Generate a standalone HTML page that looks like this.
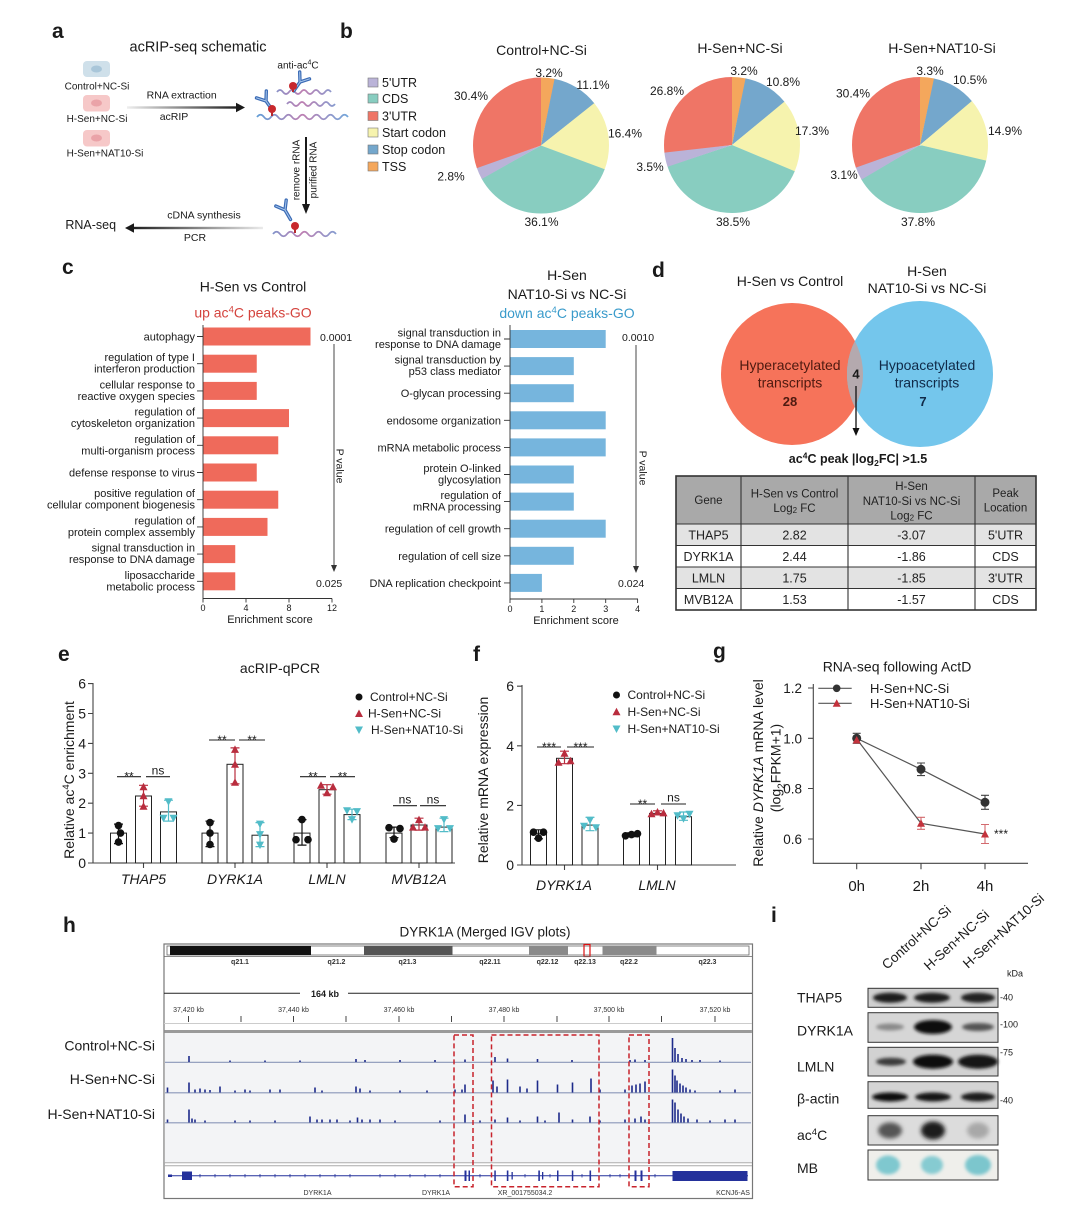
<!DOCTYPE html>
<html><head><meta charset="utf-8">
<style>
html,body{margin:0;padding:0;background:#fff;}
svg{display:block;font-family:"Liberation Sans",Arial,sans-serif;}
</style></head><body>
<svg width="1080" height="1221" viewBox="0 0 1080 1221" xmlns="http://www.w3.org/2000/svg">
<defs>
<linearGradient id="gR" gradientUnits="userSpaceOnUse" x1="127" y1="0" x2="240" y2="0"><stop offset="0" stop-color="#eeeeee"/><stop offset="1" stop-color="#1a1a1a"/></linearGradient>
<linearGradient id="gL" gradientUnits="userSpaceOnUse" x1="130" y1="0" x2="265" y2="0"><stop offset="0" stop-color="#1a1a1a"/><stop offset="1" stop-color="#eeeeee"/></linearGradient>
<linearGradient id="wv" gradientUnits="userSpaceOnUse" x1="255" y1="0" x2="350" y2="0"><stop offset="0" stop-color="#5f9fd8"/><stop offset="0.5" stop-color="#bd7fb2"/><stop offset="1" stop-color="#6fa8dc"/></linearGradient>
<path id="tu" d="M-4,3.5 L4,3.5 L0,-4Z"/>
<path id="td" d="M-4,-3.5 L4,-3.5 L0,4Z"/>
<path id="ab" d="M0 11 L0 0 M0 0 L-6 -8 M0 0 L6 -8"/>
<filter id="bl" x="-50%" y="-80%" width="200%" height="260%"><feGaussianBlur stdDeviation="2.2"/></filter>
<filter id="bl2" x="-50%" y="-80%" width="200%" height="260%"><feGaussianBlur stdDeviation="1.6"/></filter>
<clipPath id="redc"><circle cx="792" cy="374" r="71"/></clipPath>
</defs>
<rect width="1080" height="1221" fill="#fff"/>
<g fill="#1a1a1a">

<!-- ============ Panel a ============ -->
<text x="52" y="38" font-size="21" font-weight="bold">a</text>
<text x="198" y="51.5" font-size="14.5" text-anchor="middle">acRIP-seq schematic</text>
<rect x="83" y="61" width="27" height="16" rx="4" fill="#cfe0ea"/>
<ellipse cx="96.5" cy="69" rx="5.5" ry="3.5" fill="#a9c6d9"/>
<text x="97" y="89.5" font-size="10" text-anchor="middle">Control+NC-Si</text>
<rect x="83" y="95" width="27" height="16.5" rx="4" fill="#f6c8c8"/>
<ellipse cx="96.5" cy="103" rx="5.5" ry="3.5" fill="#eaa3a8"/>
<text x="97" y="122" font-size="10" text-anchor="middle">H-Sen+NC-Si</text>
<rect x="83" y="130" width="27" height="16.5" rx="4" fill="#f6c8c8"/>
<ellipse cx="96.5" cy="138" rx="5.5" ry="3.5" fill="#eaa3a8"/>
<text x="105" y="156.5" font-size="10" text-anchor="middle">H-Sen+NAT10-Si</text>
<rect x="127" y="106.3" width="111" height="2.4" fill="url(#gR)"/>
<polygon points="236,102.8 245,107.5 236,112.2" fill="#1a1a1a"/>
<text x="181.7" y="98.5" font-size="10.5" text-anchor="middle">RNA extraction</text>
<text x="174" y="120" font-size="10.5" text-anchor="middle">acRIP</text>
<text x="298" y="68.5" font-size="10" text-anchor="middle">anti-ac<tspan dy="-4" font-size="7">4</tspan><tspan dy="4">C</tspan></text>
<path d="M277 92 q3 -4 6 0 t6 0 t6 0 t6 0 t6 0 t6 0 t6 0 t6 0 t6 0" fill="none" stroke="url(#wv)" stroke-width="1.8"/>
<path d="M287 104 q3 -4 6 0 t6 0 t6 0 t6 0 t6 0 t6 0 t6 0 t6 0" fill="none" stroke="url(#wv)" stroke-width="1.8"/>
<path d="M257 117 q3.5 -4.5 7 0 t7 0 t7 0 t7 0 t7 0 t7 0 t7 0 t7 0 t7 0 t7 0 t7 0 t7 0 t7 0" fill="none" stroke="url(#wv)" stroke-width="1.8"/>
<g transform="translate(300,82) rotate(35)"><use href="#ab" fill="none" stroke="#3b6bb5" stroke-width="3.4" stroke-linecap="round"/><use href="#ab" fill="none" stroke="#a7c6ec" stroke-width="1" stroke-linecap="round"/></g>
<line x1="293" y1="86" x2="293" y2="92" stroke="#b52a2e" stroke-width="2"/><circle cx="293" cy="86" r="4" fill="#c8282d"/>
<g transform="translate(266,101) rotate(-35)"><use href="#ab" fill="none" stroke="#3b6bb5" stroke-width="3.4" stroke-linecap="round"/><use href="#ab" fill="none" stroke="#a7c6ec" stroke-width="1" stroke-linecap="round"/></g>
<line x1="272" y1="109" x2="272" y2="116" stroke="#b52a2e" stroke-width="2"/><circle cx="272" cy="109" r="4" fill="#c8282d"/>
<line x1="306" y1="137" x2="306" y2="206" stroke="#1a1a1a" stroke-width="2"/>
<polygon points="302,204 310,204 306,214" fill="#1a1a1a"/>
<text transform="translate(299.5,170) rotate(-90)" font-size="10" text-anchor="middle">remove rRNA</text>
<text transform="translate(316.5,170) rotate(-90)" font-size="10" text-anchor="middle">purified RNA</text>
<g transform="translate(285,210) rotate(-30)"><use href="#ab" fill="none" stroke="#3b6bb5" stroke-width="3.4" stroke-linecap="round"/><use href="#ab" fill="none" stroke="#a7c6ec" stroke-width="1" stroke-linecap="round"/></g>
<line x1="295" y1="226" x2="295" y2="233" stroke="#b52a2e" stroke-width="2"/><circle cx="295" cy="226" r="4" fill="#c8282d"/>
<path d="M273 234 q3.5 -4.5 7 0 t7 0 t7 0 t7 0 t7 0 t7 0 t7 0 t7 0 t7 0" fill="none" stroke="url(#wv)" stroke-width="1.8"/>
<rect x="132" y="226.8" width="131" height="2.4" fill="url(#gL)"/>
<polygon points="134,223.3 125,228 134,232.7" fill="#1a1a1a"/>
<text x="204" y="218.5" font-size="10.5" text-anchor="middle">cDNA synthesis</text>
<text x="195" y="241" font-size="10.5" text-anchor="middle">PCR</text>
<text x="90.7" y="229" font-size="12.5" text-anchor="middle">RNA-seq</text>

<!-- ============ Panel b ============ -->
<text x="340" y="38" font-size="21" font-weight="bold">b</text>
<g font-size="12.5">
<rect x="368" y="78" width="10" height="9" fill="#bab3d8" stroke="#777" stroke-width="0.6"/><text x="382" y="87">5'UTR</text>
<rect x="368" y="94" width="10" height="9" fill="#88cdc0" stroke="#777" stroke-width="0.6"/><text x="382" y="103">CDS</text>
<rect x="368" y="111.5" width="10" height="9" fill="#ef7566" stroke="#777" stroke-width="0.6"/><text x="382" y="120.5">3'UTR</text>
<rect x="368" y="128" width="10" height="9" fill="#f6f3ae" stroke="#777" stroke-width="0.6"/><text x="382" y="137">Start codon</text>
<rect x="368" y="145" width="10" height="9" fill="#74a7cc" stroke="#777" stroke-width="0.6"/><text x="382" y="154">Stop codon</text>
<rect x="368" y="162" width="10" height="9" fill="#f4a75c" stroke="#777" stroke-width="0.6"/><text x="382" y="171">TSS</text>
</g>
<!-- pie 1 -->
<g transform="translate(541,145.5) rotate(-90)" fill="none" stroke-width="68">
<circle r="34" pathLength="100" stroke="#f4a75c" stroke-dasharray="3.3 200" stroke-dashoffset="0"/>
<circle r="34" pathLength="100" stroke="#74a7cc" stroke-dasharray="11.2 200" stroke-dashoffset="-3.2"/>
<circle r="34" pathLength="100" stroke="#f6f3ae" stroke-dasharray="16.5 200" stroke-dashoffset="-14.3"/>
<circle r="34" pathLength="100" stroke="#88cdc0" stroke-dasharray="36.2 200" stroke-dashoffset="-30.7"/>
<circle r="34" pathLength="100" stroke="#bab3d8" stroke-dasharray="2.9 200" stroke-dashoffset="-66.8"/>
<circle r="34" pathLength="100" stroke="#ef7566" stroke-dasharray="30.5 200" stroke-dashoffset="-69.6"/>
</g>
<text x="541.5" y="55" font-size="14" text-anchor="middle">Control+NC-Si</text>
<g font-size="12" text-anchor="middle">
<text x="549" y="77">3.2%</text><text x="593" y="89">11.1%</text><text x="471" y="100">30.4%</text>
<text x="625" y="137.5">16.4%</text><text x="451" y="180.5">2.8%</text><text x="541.5" y="226">36.1%</text>
</g>
<!-- pie 2 -->
<g transform="translate(732,145) rotate(-90)" fill="none" stroke-width="68">
<circle r="34" pathLength="100" stroke="#f4a75c" stroke-dasharray="3.3 200" stroke-dashoffset="0"/>
<circle r="34" pathLength="100" stroke="#74a7cc" stroke-dasharray="10.9 200" stroke-dashoffset="-3.2"/>
<circle r="34" pathLength="100" stroke="#f6f3ae" stroke-dasharray="17.4 200" stroke-dashoffset="-14.0"/>
<circle r="34" pathLength="100" stroke="#88cdc0" stroke-dasharray="38.6 200" stroke-dashoffset="-31.3"/>
<circle r="34" pathLength="100" stroke="#bab3d8" stroke-dasharray="3.6 200" stroke-dashoffset="-69.8"/>
<circle r="34" pathLength="100" stroke="#ef7566" stroke-dasharray="26.9 200" stroke-dashoffset="-73.2"/>
</g>
<text x="740" y="53" font-size="14" text-anchor="middle">H-Sen+NC-Si</text>
<g font-size="12" text-anchor="middle">
<text x="744" y="75">3.2%</text><text x="783" y="86">10.8%</text><text x="667" y="95">26.8%</text>
<text x="812" y="135">17.3%</text><text x="650" y="171">3.5%</text><text x="733" y="226">38.5%</text>
</g>
<!-- pie 3 -->
<g transform="translate(920,145) rotate(-90)" fill="none" stroke-width="68">
<circle r="34" pathLength="100" stroke="#f4a75c" stroke-dasharray="3.4 200" stroke-dashoffset="0"/>
<circle r="34" pathLength="100" stroke="#74a7cc" stroke-dasharray="10.6 200" stroke-dashoffset="-3.3"/>
<circle r="34" pathLength="100" stroke="#f6f3ae" stroke-dasharray="15.0 200" stroke-dashoffset="-13.8"/>
<circle r="34" pathLength="100" stroke="#88cdc0" stroke-dasharray="37.9 200" stroke-dashoffset="-28.7"/>
<circle r="34" pathLength="100" stroke="#bab3d8" stroke-dasharray="3.2 200" stroke-dashoffset="-66.5"/>
<circle r="34" pathLength="100" stroke="#ef7566" stroke-dasharray="30.5 200" stroke-dashoffset="-69.6"/>
</g>
<text x="942" y="53" font-size="14" text-anchor="middle">H-Sen+NAT10-Si</text>
<g font-size="12" text-anchor="middle">
<text x="930" y="75">3.3%</text><text x="970" y="84">10.5%</text><text x="853" y="97.5">30.4%</text>
<text x="1005" y="135">14.9%</text><text x="844" y="179">3.1%</text><text x="918" y="226">37.8%</text>
</g>

<!-- ============ Panel c ============ -->
<text x="62" y="274" font-size="21" font-weight="bold">c</text>
<text x="253" y="291.5" font-size="14" text-anchor="middle">H-Sen vs Control</text>
<text x="253" y="317.5" font-size="14" text-anchor="middle" fill="#d4433d">up ac<tspan dy="-5" font-size="9.5">4</tspan><tspan dy="5">C peaks-GO</tspan></text>
<g fill="#ef6a5b">
<rect x="203" y="327.5" width="107.5" height="18"/>
<rect x="203" y="354.7" width="53.75" height="18"/>
<rect x="203" y="381.9" width="53.75" height="18"/>
<rect x="203" y="409.1" width="86" height="18"/>
<rect x="203" y="436.3" width="75.25" height="18"/>
<rect x="203" y="463.5" width="53.75" height="18"/>
<rect x="203" y="490.7" width="75.25" height="18"/>
<rect x="203" y="517.9" width="64.5" height="18"/>
<rect x="203" y="545.1" width="32.25" height="18"/>
<rect x="203" y="572.3" width="32.25" height="18"/>
</g>
<g stroke="#333" stroke-width="0.9" fill="none">
<path d="M203 325 V598.5 H332"/>
<path d="M197 336.5H203M197 363.7H203M197 390.9H203M197 418.1H203M197 445.3H203M197 472.5H203M197 499.7H203M197 526.9H203M197 554.1H203M197 581.3H203"/>
<path d="M203 598.5v4M246 598.5v4M289 598.5v4M332 598.5v4"/>
<path d="M334 344 V566"/>
</g>
<polygon points="331,565 337,565 334,572" fill="#333"/>
<g font-size="9" text-anchor="middle"><text x="203" y="611">0</text><text x="246" y="611">4</text><text x="289" y="611">8</text><text x="332" y="611">12</text></g>
<text x="270" y="623" font-size="11" text-anchor="middle">Enrichment score</text>
<text x="320" y="341" font-size="10.5">0.0001</text>
<text x="316" y="587" font-size="10.5">0.025</text>
<text transform="translate(336.5,466) rotate(90)" font-size="10.5" text-anchor="middle">P value</text>
<g font-size="11" text-anchor="end">
<text x="195" y="340.5">autophagy</text>
<text x="195" y="361.2">regulation of type I</text><text x="195" y="372.7">interferon production</text>
<text x="195" y="388.4">cellular response to</text><text x="195" y="399.9">reactive oxygen species</text>
<text x="195" y="415.6">regulation of</text><text x="195" y="427.1">cytoskeleton organization</text>
<text x="195" y="442.8">regulation of</text><text x="195" y="454.3">multi-organism process</text>
<text x="195" y="476.5">defense response to virus</text>
<text x="195" y="497.2">positive regulation of</text><text x="195" y="508.7">cellular component biogenesis</text>
<text x="195" y="524.4">regulation of</text><text x="195" y="535.9">protein complex assembly</text>
<text x="195" y="551.6">signal transduction in</text><text x="195" y="563.1">response to DNA damage</text>
<text x="195" y="578.8">liposaccharide</text><text x="195" y="590.3">metabolic process</text>
</g>

<!-- right GO chart -->
<text x="567" y="280" font-size="14" text-anchor="middle">H-Sen</text>
<text x="567" y="299" font-size="14" text-anchor="middle">NAT10-Si vs NC-Si</text>
<text x="567" y="318" font-size="14" text-anchor="middle" fill="#3a9bcb">down ac<tspan dy="-5" font-size="9.5">4</tspan><tspan dy="5">C peaks-GO</tspan></text>
<g fill="#76b5dd">
<rect x="510" y="330" width="95.7" height="18"/>
<rect x="510" y="357.1" width="63.8" height="18"/>
<rect x="510" y="384.2" width="63.8" height="18"/>
<rect x="510" y="411.3" width="95.7" height="18"/>
<rect x="510" y="438.4" width="95.7" height="18"/>
<rect x="510" y="465.5" width="63.8" height="18"/>
<rect x="510" y="492.6" width="63.8" height="18"/>
<rect x="510" y="519.7" width="95.7" height="18"/>
<rect x="510" y="546.8" width="63.8" height="18"/>
<rect x="510" y="573.9" width="31.9" height="18"/>
</g>
<g stroke="#333" stroke-width="0.9" fill="none">
<path d="M510 325 V599 H638"/>
<path d="M504 339H510M504 366.1H510M504 393.2H510M504 420.3H510M504 447.4H510M504 474.5H510M504 501.6H510M504 528.7H510M504 555.8H510M504 582.9H510"/>
<path d="M510 599v4M541.9 599v4M573.8 599v4M605.7 599v4M637.6 599v4"/>
<path d="M636 345 V567"/>
</g>
<polygon points="633,566 639,566 636,573" fill="#333"/>
<g font-size="9" text-anchor="middle"><text x="510" y="612">0</text><text x="541.9" y="612">1</text><text x="573.8" y="612">2</text><text x="605.7" y="612">3</text><text x="637.6" y="612">4</text></g>
<text x="576" y="624" font-size="11" text-anchor="middle">Enrichment score</text>
<text x="622" y="341" font-size="10.5">0.0010</text>
<text x="618" y="587" font-size="10.5">0.024</text>
<text transform="translate(639.5,468) rotate(90)" font-size="10.5" text-anchor="middle">P value</text>
<g font-size="11" text-anchor="end">
<text x="501" y="336.5">signal transduction in</text><text x="501" y="348">response to DNA damage</text>
<text x="501" y="363.6">signal transduction by</text><text x="501" y="375.1">p53 class mediator</text>
<text x="501" y="397.2">O-glycan processing</text>
<text x="501" y="424.3">endosome organization</text>
<text x="501" y="451.4">mRNA metabolic process</text>
<text x="501" y="472">protein O-linked</text><text x="501" y="483.5">glycosylation</text>
<text x="501" y="499.1">regulation of</text><text x="501" y="510.6">mRNA processing</text>
<text x="501" y="532.7">regulation of cell growth</text>
<text x="501" y="559.8">regulation of cell size</text>
<text x="501" y="586.9">DNA replication checkpoint</text>
</g>

<!-- ============ Panel d ============ -->
<text x="652" y="277" font-size="21" font-weight="bold">d</text>
<text x="790" y="286" font-size="14" text-anchor="middle">H-Sen vs Control</text>
<text x="927" y="276" font-size="14" text-anchor="middle">H-Sen</text>
<text x="927" y="293" font-size="14" text-anchor="middle">NAT10-Si vs NC-Si</text>
<circle cx="792" cy="374" r="71" fill="#f6735a"/>
<circle cx="920" cy="374" r="73" fill="#74c6ec"/>
<circle cx="920" cy="374" r="73" fill="#b4a9ae" clip-path="url(#redc)"/>
<g font-size="14" text-anchor="middle">
<text x="790" y="370" fill="#4e1a10">Hyperacetylated</text>
<text x="790" y="387.5" fill="#4e1a10">transcripts</text>
<text x="790" y="406" font-weight="bold" font-size="13" fill="#4e1a10">28</text>
<text x="927" y="370" fill="#102a48">Hypoacetylated</text>
<text x="927" y="387.5" fill="#102a48">transcripts</text>
<text x="923" y="406" font-weight="bold" font-size="13" fill="#102a48">7</text>
<text x="856" y="378.5" font-weight="bold" font-size="13">4</text>
</g>
<line x1="856" y1="386" x2="856" y2="430" stroke="#111" stroke-width="1.3"/>
<polygon points="852.5,428 859.5,428 856,436" fill="#111"/>
<text x="858" y="463" font-size="12.5" font-weight="bold" text-anchor="middle">ac<tspan dy="-4.5" font-size="8.5">4</tspan><tspan dy="4.5">C peak |log</tspan><tspan dy="3" font-size="8.5">2</tspan><tspan dy="-3">FC| &gt;1.5</tspan></text>
<!-- table -->
<rect x="676" y="476" width="360" height="48" fill="#a9a9a9"/>
<rect x="676" y="524" width="360" height="21.5" fill="#e3e3e3"/>
<rect x="676" y="545.5" width="360" height="21.5" fill="#ffffff"/>
<rect x="676" y="567" width="360" height="21.5" fill="#e3e3e3"/>
<rect x="676" y="588.5" width="360" height="21.5" fill="#ffffff"/>
<g stroke="#333" stroke-width="1.1" fill="none">
<rect x="676" y="476" width="360" height="134" stroke-width="1.6"/>
<path d="M741 476V610M848 476V610M975 476V610M676 524H1036M676 545.5H1036M676 567H1036M676 588.5H1036"/>
</g>
<g font-size="11.5" text-anchor="middle" fill="#222">
<text x="708.5" y="504">Gene</text>
<text x="794.5" y="497.5">H-Sen vs Control</text>
<text x="794.5" y="512">Log<tspan dy="1" font-size="8">2</tspan><tspan dy="-1"> FC</tspan></text>
<text x="911.5" y="490">H-Sen</text>
<text x="911.5" y="505">NAT10-Si vs NC-Si</text>
<text x="911.5" y="519.5">Log<tspan dy="1" font-size="8">2</tspan><tspan dy="-1"> FC</tspan></text>
<text x="1005.5" y="497">Peak</text>
<text x="1005.5" y="511.5">Location</text>
</g>
<g font-size="12.5" text-anchor="middle" fill="#222">
<text x="708.5" y="539.5">THAP5</text><text x="794.5" y="539.5">2.82</text><text x="911.5" y="539.5">-3.07</text><text x="1005.5" y="539.5">5'UTR</text>
<text x="708.5" y="561">DYRK1A</text><text x="794.5" y="561">2.44</text><text x="911.5" y="561">-1.86</text><text x="1005.5" y="561">CDS</text>
<text x="708.5" y="582.5">LMLN</text><text x="794.5" y="582.5">1.75</text><text x="911.5" y="582.5">-1.85</text><text x="1005.5" y="582.5">3'UTR</text>
<text x="708.5" y="604">MVB12A</text><text x="794.5" y="604">1.53</text><text x="911.5" y="604">-1.57</text><text x="1005.5" y="604">CDS</text>
</g>

<!-- ============ Panel e ============ -->
<text x="58" y="661" font-size="21" font-weight="bold">e</text>
<text x="280" y="673" font-size="14" text-anchor="middle">acRIP-qPCR</text>
<text transform="translate(74,780) rotate(-90)" font-size="14" text-anchor="middle">Relative  ac<tspan dy="-5" font-size="9.5">4</tspan><tspan dy="5">C enrichment</tspan></text>
<g font-size="14" text-anchor="end">
<text x="86" y="868">0</text><text x="86" y="838.1">1</text><text x="86" y="808.2">2</text><text x="86" y="778.3">3</text><text x="86" y="748.4">4</text><text x="86" y="718.5">5</text><text x="86" y="688.6">6</text>
</g>
<g stroke="#444" stroke-width="1.1" fill="none">
<path d="M93 683V863H455"/>
<path d="M88 863H93M88 833.1H93M88 803.2H93M88 773.3H93M88 743.4H93M88 713.5H93M88 683.6H93"/>
<path d="M143.5 863v5M235 863v5M327 863v5M419 863v5"/>
</g>
<g fill="#fff" stroke="#222" stroke-width="1">
<rect x="110.5" y="833.1" width="16" height="29.9"/><rect x="135.5" y="796" width="16" height="67"/><rect x="160.5" y="811.9" width="16" height="51.1"/>
<rect x="202" y="833.1" width="16" height="29.9"/><rect x="227" y="764.3" width="16" height="98.7"/><rect x="252" y="835.2" width="16" height="27.8"/>
<rect x="294" y="833.1" width="16" height="29.9"/><rect x="319" y="789.7" width="16" height="73.3"/><rect x="344" y="814.6" width="16" height="48.4"/>
<rect x="386" y="833.1" width="16" height="29.9"/><rect x="411" y="825" width="16" height="38"/><rect x="436" y="827.1" width="16" height="35.9"/>
</g>
<!-- error bars e -->
<g fill="none" stroke-width="1.2">
<path stroke="#111" d="M118.5 843.6V824.1M114 843.6h9M114 824.1h9 M210 846.6V821.1M205.5 846.6h9M205.5 821.1h9 M302 845.1V819.6M297.5 845.1h9M297.5 819.6h9 M394 837.6V827.1M389.5 837.6h9M389.5 827.1h9"/>
<path stroke="#b92d3e" d="M143.5 806.2V785.3M139 806.2h9M139 785.3h9 M235 783.8V747.9M230.5 783.8h9M230.5 747.9h9 M327 794.2V784.7M322.5 794.2h9M322.5 784.7h9 M419 830.1V818.2M414.5 830.1h9M414.5 818.2h9"/>
<path stroke="#52bcc8" d="M168.5 821.1V800.2M164 821.1h9M164 800.2h9 M260 846.6V822.6M255.5 846.6h9M255.5 822.6h9 M352 819.6V809.2M347.5 819.6h9M347.5 809.2h9 M444 831.6V818.2M439.5 831.6h9M439.5 818.2h9"/>
</g>
<g fill="#111">
<circle cx="118.5" cy="825.6" r="3.8"/><circle cx="120.5" cy="833.1" r="3.8"/><circle cx="118.5" cy="842.1" r="3.8"/>
<circle cx="210" cy="822.6" r="3.8"/><circle cx="210" cy="833.1" r="3.8"/><circle cx="210" cy="844.5" r="3.8"/>
<circle cx="296" cy="839.7" r="3.8"/><circle cx="308" cy="839.7" r="3.8"/><circle cx="302" cy="819.6" r="3.8"/>
<circle cx="389" cy="827.7" r="3.8"/><circle cx="400" cy="828.6" r="3.8"/><circle cx="394" cy="839.1" r="3.8"/>
</g>
<g fill="#b92d3e">
<use href="#tu" x="143.5" y="786.8"/><use href="#tu" x="143.5" y="795.7"/><use href="#tu" x="143.5" y="806.2"/>
<use href="#tu" x="235" y="749.4"/><use href="#tu" x="235" y="764.3"/><use href="#tu" x="235" y="782.3"/>
<use href="#tu" x="321" y="785.3"/><use href="#tu" x="333" y="786.8"/><use href="#tu" x="327" y="792.7"/>
<use href="#tu" x="419" y="819.6"/><use href="#tu" x="413" y="827.1"/><use href="#tu" x="425" y="827.1"/>
</g>
<g fill="#52bcc8">
<use href="#td" x="168.5" y="801.7"/><use href="#td" x="163.5" y="818.2"/><use href="#td" x="173.5" y="818.2"/>
<use href="#td" x="260" y="824.1"/><use href="#td" x="260" y="834.6"/><use href="#td" x="260" y="845.1"/>
<use href="#td" x="347" y="810.7"/><use href="#td" x="357" y="811.6"/><use href="#td" x="352" y="819.6"/>
<use href="#td" x="444" y="819.6"/><use href="#td" x="438" y="828.6"/><use href="#td" x="450" y="828.6"/>
</g>
<!-- sig e -->
<g stroke="#222" stroke-width="1.1">
<path d="M117 776.7H141M146 776.7H170M209 740H235M239 740H265M300 776.7H326M330 776.7H355M393 805.7H417M420 805.7H446"/>
</g>
<g font-size="12" text-anchor="middle">
<text x="129" y="780.5">**</text><text x="158" y="774.5">ns</text>
<text x="222" y="744">**</text><text x="252" y="744">**</text>
<text x="313" y="780.5">**</text><text x="342.5" y="780.5">**</text>
<text x="405" y="803.5">ns</text><text x="433" y="803.5">ns</text>
</g>
<!-- legend e -->
<circle cx="359" cy="697" r="3.5" fill="#111"/>
<use href="#tu" x="359" y="713.5" fill="#b92d3e"/>
<use href="#td" x="359" y="730" fill="#52bcc8"/>
<g font-size="12"><text x="370" y="701">Control+NC-Si</text><text x="368" y="717.5">H-Sen+NC-Si</text><text x="371" y="734">H-Sen+NAT10-Si</text></g>
<g font-size="14" font-style="italic" text-anchor="middle">
<text x="143.5" y="884">THAP5</text><text x="235" y="884">DYRK1A</text><text x="327" y="884">LMLN</text><text x="419" y="884">MVB12A</text>
</g>

<!-- ============ Panel f ============ -->
<text x="473" y="661" font-size="21" font-weight="bold">f</text>
<text transform="translate(488,780) rotate(-90)" font-size="14" text-anchor="middle">Relative  mRNA expression</text>
<g font-size="14" text-anchor="end">
<text x="514" y="870">0</text><text x="514" y="810.5">2</text><text x="514" y="751">4</text><text x="514" y="691">6</text>
</g>
<g stroke="#444" stroke-width="1.1" fill="none">
<path d="M522 685V865H736"/>
<path d="M517 865H522M517 805.4H522M517 745.8H522M517 686.2H522"/>
<path d="M564.5 865v5M657.5 865v5"/>
</g>
<g fill="#fff" stroke="#222" stroke-width="1">
<rect x="530.5" y="833.7" width="16" height="31.3"/><rect x="556.5" y="758.3" width="16" height="106.7"/><rect x="582" y="825.1" width="16" height="39.9"/>
<rect x="623.5" y="835.2" width="16" height="29.8"/><rect x="649.5" y="813.4" width="16" height="51.6"/><rect x="675.5" y="816.7" width="16" height="48.3"/>
</g>
<g fill="none" stroke-width="1.2">
<path stroke="#111" d="M538.5 838.8V829.8M534 838.8h9M534 829.8h9 M631.5 836.7V832.8M627 836.7h9M627 832.8h9"/>
<path stroke="#b92d3e" d="M564.5 763.7V751.2M560 763.7h9M560 751.2h9 M657.5 814.9V810.8M653 814.9h9M653 810.8h9"/>
<path stroke="#52bcc8" d="M590 830.7V817.3M585.5 830.7h9M585.5 817.3h9 M683.5 820.3V812M679 820.3h9M679 812h9"/>
</g>
<g fill="#111">
<circle cx="533.5" cy="832.2" r="3.8"/><circle cx="543.5" cy="832.2" r="3.8"/><circle cx="538.5" cy="838.2" r="3.8"/>
<circle cx="625.5" cy="835.8" r="3.8"/><circle cx="631.5" cy="834.6" r="3.8"/><circle cx="637.5" cy="833.7" r="3.8"/>
</g>
<g fill="#b92d3e">
<use href="#tu" x="564.5" y="753.3"/><use href="#tu" x="558.5" y="762.2"/><use href="#tu" x="570.5" y="760.7"/>
<use href="#tu" x="651.5" y="813.7"/><use href="#tu" x="657.5" y="812"/><use href="#tu" x="663.5" y="812.9"/>
</g>
<g fill="#52bcc8">
<use href="#td" x="590" y="820.3"/><use href="#td" x="584" y="826.3"/><use href="#td" x="596" y="827.8"/>
<use href="#td" x="677.5" y="815.8"/><use href="#td" x="683.5" y="818.8"/><use href="#td" x="689.5" y="814.3"/>
</g>
<g stroke="#222" stroke-width="1.1"><path d="M537 747H561M567 747H594M630 804H655M661 804H686"/></g>
<g font-size="12" text-anchor="middle">
<text x="549" y="751">***</text><text x="580.5" y="751">***</text>
<text x="642.5" y="808">**</text><text x="673.5" y="801.5">ns</text>
</g>
<circle cx="616.5" cy="695" r="3.5" fill="#111"/>
<use href="#tu" x="616.5" y="711.7" fill="#b92d3e"/>
<use href="#td" x="616.5" y="729" fill="#52bcc8"/>
<g font-size="12"><text x="627.5" y="699">Control+NC-Si</text><text x="627.5" y="716">H-Sen+NC-Si</text><text x="627.5" y="733">H-Sen+NAT10-Si</text></g>
<g font-size="14" font-style="italic" text-anchor="middle"><text x="564" y="890">DYRK1A</text><text x="657" y="890">LMLN</text></g>

<!-- ============ Panel g ============ -->
<text x="713" y="658" font-size="21" font-weight="bold">g</text>
<text x="897" y="671.5" font-size="14" text-anchor="middle">RNA-seq following ActD</text>
<text transform="translate(763,773) rotate(-90)" font-size="14" text-anchor="middle">Relative <tspan font-style="italic">DYRK1A</tspan> mRNA level</text>
<text transform="translate(780.5,768) rotate(-90)" font-size="14" text-anchor="middle">(log<tspan dy="4" font-size="10">2</tspan><tspan dy="-4">FPKM+1)</tspan></text>
<g font-size="13.5" text-anchor="end">
<text x="802" y="693">1.2</text><text x="802" y="743.3">1.0</text><text x="802" y="793.3">0.8</text><text x="802" y="844">0.6</text>
</g>
<g stroke="#444" stroke-width="1.1" fill="none">
<path d="M813.3 684V863.3H1028"/>
<path d="M808 688H813.3M808 738.3H813.3M808 788.5H813.3M808 839H813.3"/>
<path d="M856.7 863.3v6M921 863.3v6M985 863.3v6"/>
</g>
<g font-size="15" text-anchor="middle"><text x="856.7" y="891">0h</text><text x="921" y="891">2h</text><text x="985" y="891">4h</text></g>
<g stroke="#555" stroke-width="1.2" fill="none">
<path d="M856.7 738.3L921 769.3L985 802.3"/>
<path d="M856.7 739L921 823.3L985 834"/>
<path d="M818.3 688.3H851.7M818.3 703.3H851.7"/>
</g>
<g stroke="#444" stroke-width="1.1" fill="none">
<path d="M856.7 733.3V743.3M852.7 733.3h8M852.7 743.3h8 M921 763V775.6M917 763h8M917 775.6h8 M985 795.3V809.3M981 795.3h8M981 809.3h8"/>
</g>
<g stroke="#d36a6e" stroke-width="1.1" fill="none">
<path d="M921 817.3V829.3M917 817.3h8M917 829.3h8 M985 824.5V843.5M981 824.5h8M981 843.5h8"/>
</g>
<g fill="#333"><circle cx="856.7" cy="738.3" r="4.5"/><circle cx="921" cy="769.3" r="4.5"/><circle cx="985" cy="802.3" r="4.5"/><circle cx="836.7" cy="688.3" r="3.8"/></g>
<g fill="#c3323c"><use href="#tu" x="856.7" y="740"/><use href="#tu" x="921" y="823.3"/><use href="#tu" x="985" y="834"/><use href="#tu" x="836.7" y="703.3"/></g>
<text x="1001" y="838" font-size="12" text-anchor="middle">***</text>
<g font-size="13"><text x="870" y="693">H-Sen+NC-Si</text><text x="870" y="708">H-Sen+NAT10-Si</text></g>

<!-- ============ Panel h ============ -->
<text x="63" y="932" font-size="21" font-weight="bold">h</text>
<text x="485" y="936.5" font-size="13.5" text-anchor="middle">DYRK1A (Merged IGV plots)</text>
<rect x="164" y="944" width="588.5" height="254.5" fill="#fff" stroke="#777" stroke-width="1.2"/>
<!-- ideogram -->
<rect x="167" y="946" width="582" height="9" fill="#fff" stroke="#666" stroke-width="0.8"/>
<rect x="170" y="946" width="141" height="9" fill="#111"/>
<rect x="364" y="946" width="88.5" height="9" fill="#555"/>
<rect x="529" y="946" width="39" height="9" fill="#8a8a8a"/>
<rect x="602.5" y="946" width="54" height="9" fill="#8a8a8a"/>
<rect x="584" y="944.5" width="6" height="12" fill="none" stroke="#d11" stroke-width="1.2"/>
<line x1="164" y1="956.5" x2="752" y2="956.5" stroke="#666" stroke-width="0.8"/>
<g font-size="7" font-weight="bold" text-anchor="middle" fill="#333">
<text x="240" y="964">q21.1</text><text x="336.5" y="964">q21.2</text><text x="407.5" y="964">q21.3</text><text x="490" y="964">q22.11</text>
<text x="547.5" y="964">q22.12</text><text x="585" y="964">q22.13</text><text x="629" y="964">q22.2</text><text x="707.5" y="964">q22.3</text>
</g>
<line x1="164" y1="993.3" x2="300" y2="993.3" stroke="#222" stroke-width="1"/>
<line x1="348" y1="993.3" x2="752" y2="993.3" stroke="#222" stroke-width="1"/>
<text x="325" y="996.8" font-size="9" font-weight="bold" text-anchor="middle">164 kb</text>
<g font-size="7" text-anchor="middle" fill="#333">
<text x="188.5" y="1012">37,420 kb</text><text x="293.5" y="1012">37,440 kb</text><text x="399" y="1012">37,460 kb</text>
<text x="504" y="1012">37,480 kb</text><text x="609" y="1012">37,500 kb</text><text x="715" y="1012">37,520 kb</text>
</g>
<path d="M188.5 1016v6M241 1016v6M293.5 1016v6M346 1016v6M399 1016v6M451.5 1016v6M504 1016v6M557 1016v6M609 1016v6M661.5 1016v6M715 1016v6" stroke="#333" stroke-width="0.9"/>
<line x1="164" y1="1023.5" x2="752" y2="1023.5" stroke="#ccc" stroke-width="1"/>
<rect x="164.6" y="1030" width="587.3" height="3" fill="#9a9a9a"/>
<rect x="164.6" y="1033" width="587.3" height="129" fill="#f3f4f6"/>
<g stroke="#8a97b8" stroke-width="1.2">
<line x1="165" y1="1062.3" x2="751" y2="1062.3"/><line x1="165" y1="1092.8" x2="751" y2="1092.8"/><line x1="165" y1="1122.8" x2="751" y2="1122.8"/>
</g>
<g stroke="#1d2a8a" stroke-width="1.6" fill="none">
<path d="M189 1062v-6M230 1062v-1.5M265 1062v-1.5M300 1062v-1.5M356 1062v-3M365 1062v-2M400 1062v-2M435 1062v-2M465 1062v-2.5M495 1062v-5M507.5 1062v-3.5M537.5 1062v-3M572 1062v-2M630 1062v-2M635 1062v-2.5M645 1062v-2M672.5 1062v-24M675 1062v-14M678 1062v-8M682 1062v-4M686 1062v-3M692 1062v-2M700 1062v-2M720 1062v-1.5"/>
<path d="M167.5 1092.5v-5M189 1092.5v-10M195 1092.5v-3M200 1092.5v-4M205 1092.5v-3M210 1092.5v-2.5M220 1092.5v-6M235 1092.5v-2M245 1092.5v-3M250 1092.5v-2M270 1092.5v-3M280 1092.5v-3M315 1092.5v-5M322 1092.5v-2M356 1092.5v-6M360 1092.5v-4M370 1092.5v-2M400 1092.5v-2M427 1092.5v-2M455 1092.5v-3M462 1092.5v-3M465 1092.5v-8M493 1092.5v-12M497 1092.5v-6M507.5 1092.5v-13M520 1092.5v-6M527 1092.5v-4M537.5 1092.5v-12M557.5 1092.5v-8M572.5 1092.5v-10M591 1092.5v-14M600 1092.5v-3M625 1092.5v-3M632 1092.5v-7M636 1092.5v-8M640 1092.5v-9M645 1092.5v-11M672.5 1092.5v-23M675 1092.5v-17M677 1092.5v-12M680 1092.5v-9M683 1092.5v-7M686 1092.5v-5M690 1092.5v-3M695 1092.5v-2M720 1092.5v-2M735 1092.5v-3"/>
<path d="M167.5 1122.5v-3M189 1122.5v-13M192 1122.5v-4M195 1122.5v-3M205 1122.5v-2M235 1122.5v-2M250 1122.5v-2M275 1122.5v-2M310 1122.5v-6M317 1122.5v-3M322 1122.5v-3M330 1122.5v-3M337 1122.5v-3M350 1122.5v-2M357.5 1122.5v-5M362 1122.5v-3M370 1122.5v-3M380 1122.5v-3M395 1122.5v-2M440 1122.5v-2M465 1122.5v-8M480 1122.5v-2M495 1122.5v-3M507.5 1122.5v-5M520 1122.5v-2M537.5 1122.5v-6M545 1122.5v-2M559 1122.5v-10M572.5 1122.5v-3M590 1122.5v-6M600 1122.5v-2M625 1122.5v-3M635 1122.5v-4M641 1122.5v-6M645 1122.5v-3M672.5 1122.5v-23M675 1122.5v-20M678 1122.5v-13M681 1122.5v-9M684 1122.5v-6M688 1122.5v-4M697 1122.5v-3M710 1122.5v-2M725 1122.5v-3M735 1122.5v-3"/>
</g>
<line x1="164" y1="1162.7" x2="752" y2="1162.7" stroke="#aaa" stroke-width="1"/>
<line x1="164" y1="1165.7" x2="752" y2="1165.7" stroke="#aaa" stroke-width="1"/>
<!-- gene track -->
<line x1="168" y1="1175.7" x2="748" y2="1175.7" stroke="#24319b" stroke-width="1"/>
<path d="M200 1174v3.5M215 1174v3.5M230 1174v3.5M245 1174v3.5M260 1174v3.5M275 1174v3.5M290 1174v3.5M305 1174v3.5M320 1174v3.5M335 1174v3.5M350 1174v3.5M380 1174v3.5M395 1174v3.5M410 1174v3.5M425 1174v3.5M440 1174v3.5M480 1174v3.5M525 1174v3.5M550 1174v3.5M582 1174v3.5M610 1174v3.5M620 1174v3.5M655 1174v3.5" stroke="#24319b" stroke-width="0.8"/>
<g fill="#24319b">
<rect x="168" y="1174.5" width="4" height="2.5"/>
<rect x="182" y="1171.5" width="10" height="8.5"/>
<rect x="464.5" y="1170.5" width="2" height="10.5"/><rect x="468.5" y="1170.5" width="1.5" height="10.5"/>
<rect x="494.3" y="1170.5" width="1.5" height="10.5"/><rect x="506.8" y="1170.5" width="1.6" height="10.5"/><rect x="511.5" y="1172" width="1.3" height="7.5"/>
<rect x="538.3" y="1170.5" width="1.6" height="10.5"/><rect x="542" y="1172" width="1.3" height="7.5"/><rect x="557" y="1170.5" width="1.5" height="10.5"/>
<rect x="571.8" y="1170.5" width="1.5" height="10.5"/><rect x="589.5" y="1170.5" width="1.6" height="10.5"/>
<rect x="634.5" y="1170.5" width="2" height="10.5"/><rect x="640.5" y="1170.5" width="2" height="10.5"/>
<rect x="672.5" y="1171" width="75" height="10"/>
</g>
<g font-size="7" text-anchor="middle" fill="#333">
<text x="317.5" y="1195">DYRK1A</text><text x="436" y="1195">DYRK1A</text><text x="525" y="1195">XR_001755034.2</text><text x="733" y="1195">KCNJ6-AS</text>
</g>
<g fill="none" stroke="#c8232c" stroke-width="1.5" stroke-dasharray="5,3">
<rect x="454" y="1035" width="19" height="151.7"/>
<rect x="491.5" y="1035" width="107.5" height="151.7"/>
<rect x="629" y="1035" width="20" height="151.7"/>
</g>
<g font-size="14" text-anchor="end">
<text x="155" y="1050.5">Control+NC-Si</text>
<text x="155" y="1084">H-Sen+NC-Si</text>
<text x="155" y="1119">H-Sen+NAT10-Si</text>
</g>

<!-- ============ Panel i ============ -->
<text x="771" y="922" font-size="21" font-weight="bold">i</text>
<g font-size="13.5">
<text transform="translate(887,970) rotate(-42)">Control+NC-Si</text>
<text transform="translate(929,971) rotate(-42)">H-Sen+NC-Si</text>
<text transform="translate(968,969) rotate(-42)">H-Sen+NAT10-Si</text>
</g>
<text x="1007" y="976.5" font-size="9">kDa</text>
<!-- blots -->
<rect x="868" y="988.3" width="130" height="19" fill="#cfcfcf"/>
<rect x="868" y="1012.7" width="130" height="29.6" fill="#d6d6d6"/>
<rect x="868" y="1047.3" width="130" height="28.7" fill="#d2d2d2"/>
<rect x="868" y="1081.7" width="130" height="26.6" fill="#d4d4d4"/>
<rect x="868" y="1115.7" width="130" height="29.3" fill="#dcdcdc"/>
<rect x="868" y="1150" width="130" height="30" fill="#efefeb"/>
<g filter="url(#bl2)">
<ellipse cx="890" cy="997.7" rx="17" ry="5" fill="#1e1e1e"/><ellipse cx="932" cy="997.7" rx="18" ry="5" fill="#1e1e1e"/><ellipse cx="978" cy="997.7" rx="17" ry="5" fill="#222"/>
<ellipse cx="890" cy="1027" rx="14" ry="3.5" fill="#8a8a8a"/><ellipse cx="933" cy="1027" rx="19" ry="7" fill="#111"/><ellipse cx="978" cy="1027" rx="16" ry="4" fill="#555"/>
<ellipse cx="891" cy="1061.7" rx="15" ry="4" fill="#3a3a3a"/><ellipse cx="933" cy="1061.7" rx="20" ry="7" fill="#111"/><ellipse cx="978" cy="1061.7" rx="20" ry="7" fill="#151515"/>
<ellipse cx="890" cy="1097" rx="18" ry="4.5" fill="#111"/><ellipse cx="933" cy="1097" rx="18" ry="4.5" fill="#151515"/><ellipse cx="978" cy="1097" rx="17" ry="4.5" fill="#1a1a1a"/>
</g>
<g filter="url(#bl)">
<ellipse cx="890" cy="1130.5" rx="12" ry="8" fill="#555"/><ellipse cx="933" cy="1130.5" rx="12" ry="9" fill="#1a1a1a"/><ellipse cx="978" cy="1130.5" rx="11" ry="8" fill="#a8a8a8"/>
</g>
<g filter="url(#bl2)">
<ellipse cx="888" cy="1165" rx="12" ry="9.5" fill="#7fc8cf"/><ellipse cx="932" cy="1165" rx="11" ry="9" fill="#86cbd1"/><ellipse cx="978" cy="1165" rx="13" ry="10" fill="#7cc6cd"/>
</g>
<g fill="none" stroke="#333" stroke-width="1">
<rect x="868" y="988.3" width="130" height="19"/>
<rect x="868" y="1012.7" width="130" height="29.6"/>
<rect x="868" y="1047.3" width="130" height="28.7"/>
<rect x="868" y="1081.7" width="130" height="26.6"/>
<rect x="868" y="1115.7" width="130" height="29.3"/>
<rect x="868" y="1150" width="130" height="30"/>
</g>
<g font-size="14">
<text x="797" y="1002.5">THAP5</text>
<text x="797" y="1035.5">DYRK1A</text>
<text x="797" y="1071.5">LMLN</text>
<text x="797" y="1103.5">β-actin</text>
<text x="797" y="1140">ac<tspan dy="-5" font-size="9.5">4</tspan><tspan dy="5">C</tspan></text>
<text x="797" y="1173">MB</text>
</g>
<g font-size="9">
<text x="1000" y="1000.7">-40</text>
<text x="1000" y="1027.3">-100</text>
<text x="1000" y="1055.3">-75</text>
<text x="1000" y="1103.7">-40</text>
</g>
</g>
</svg>
</body></html>
